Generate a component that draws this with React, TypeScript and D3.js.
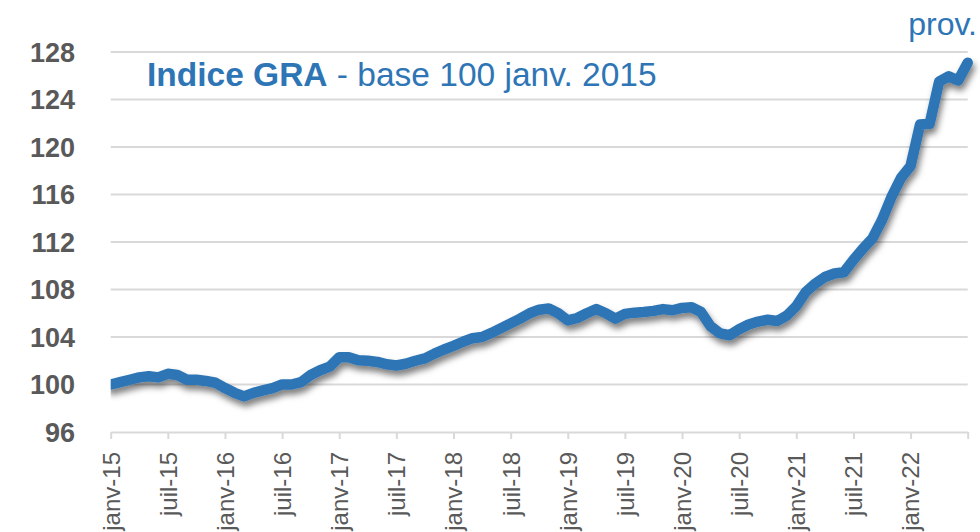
import React, { useRef, useEffect } from 'react';
import * as d3 from 'd3';

// monthly GRA index, janv-15 .. juil-22
const indexValues = [
  100.0, 100.2, 100.4, 100.6, 100.7, 100.6, 100.9, 100.8, 100.4, 100.4, 100.3, 100.15,
  99.7, 99.3, 99.0, 99.3, 99.5, 99.7, 100.0, 100.0, 100.2, 100.8, 101.2, 101.5,
  102.3, 102.3, 102.05, 102.0, 101.9, 101.7, 101.6, 101.75, 102.0, 102.2, 102.6, 102.95,
  103.25, 103.6, 103.9, 104.0, 104.35, 104.75, 105.15, 105.55, 106.0, 106.3, 106.4, 106.0,
  105.4, 105.6, 106.0, 106.35, 106.0, 105.55, 105.95, 106.05, 106.1, 106.2, 106.35, 106.25,
  106.45, 106.5, 106.1, 104.9, 104.3, 104.15, 104.65, 105.05, 105.3, 105.45, 105.35, 105.8,
  106.6, 107.8, 108.5, 109.05, 109.35, 109.45, 110.5, 111.45, 112.3, 113.85, 115.8, 117.4,
  118.4, 121.9, 121.95, 125.5, 125.95, 125.6, 127.1,
];

const xTickLabels = [
  'janv-15', 'juil-15', 'janv-16', 'juil-16', 'janv-17', 'juil-17', 'janv-18', 'juil-18',
  'janv-19', 'juil-19', 'janv-20', 'juil-20', 'janv-21', 'juil-21', 'janv-22', '',
];

const yTicks = [96, 100, 104, 108, 112, 116, 120, 124, 128];

function App() {
  const chartRef = useRef<SVGSVGElement>(null);

  useEffect(() => {
    const svg = d3.select(chartRef.current);
    svg.selectAll('*').remove();

    const width = 980, height = 532;
    const left = 110.7, right = 967.7, top = 52, bottom = 432;
    const blue = '#2E75B6', grey = '#D9D9D9', textGrey = '#595959';
    const font = 'Arial, "Liberation Sans", sans-serif';

    svg.attr('width', width).attr('height', height);

    const nMonths = (xTickLabels.length - 1) * 6;
    const xScale = d3.scaleLinear().domain([0, nMonths]).range([left, right]);
    const yScale = d3.scaleLinear().domain([96, 128]).range([bottom, top]);

    const defs = svg.append('defs');
    const filter = defs.append('filter').attr('id', 'shadow')
      .attr('x', '-10%').attr('y', '-10%').attr('width', '120%').attr('height', '130%');
    filter.append('feDropShadow')
      .attr('dx', 2).attr('dy', 5).attr('stdDeviation', 3)
      .attr('flood-color', '#000').attr('flood-opacity', 0.5);
    defs.append('clipPath').attr('id', 'plotClip')
      .append('rect').attr('x', left).attr('y', 0).attr('width', width - left).attr('height', height);

    // gridlines
    svg.append('g')
      .selectAll('line')
      .data(yTicks.filter((d) => d > 96))
      .join('line')
      .attr('x1', left).attr('x2', right)
      .attr('y1', (d) => yScale(d)).attr('y2', (d) => yScale(d))
      .attr('stroke', grey).attr('stroke-width', 2);

    // x axis
    const tickValues = xTickLabels.map((_, i) => i * 6);
    const xAxis = svg.append('g')
      .attr('transform', `translate(0,${bottom})`)
      .call(d3.axisBottom(xScale)
        .tickValues(tickValues)
        .tickSize(7)
        .tickSizeOuter(0)
        .tickFormat((d, i) => xTickLabels[i]));
    xAxis.select('.domain').attr('stroke', grey).attr('stroke-width', 2);
    xAxis.selectAll('.tick line').attr('stroke', grey).attr('stroke-width', 2);
    xAxis.selectAll('.tick text')
      .attr('transform', 'rotate(-90)')
      .attr('x', -20).attr('y', 0).attr('dy', '0.35em')
      .attr('text-anchor', 'end')
      .attr('fill', textGrey)
      .style('font-family', font)
      .style('font-size', '24px');

    // y labels
    svg.append('g')
      .selectAll('text')
      .data(yTicks)
      .join('text')
      .attr('x', 75)
      .attr('y', (d) => yScale(d))
      .attr('dy', '0.36em')
      .attr('text-anchor', 'end')
      .attr('fill', textGrey)
      .style('font-family', font)
      .style('font-weight', 'bold')
      .style('font-size', '27px')
      .text((d) => d);

    const line = d3.line<number>()
      .x((d, i) => xScale(i))
      .y((d) => yScale(d));

    svg.append('g').attr('clip-path', 'url(#plotClip)')
      .append('path')
      .datum(indexValues)
      .attr('fill', 'none')
      .attr('stroke', blue)
      .attr('stroke-width', 10.5)
      .attr('stroke-linejoin', 'round')
      .attr('stroke-linecap', 'round')
      .attr('filter', 'url(#shadow)')
      .attr('d', line);

    const title = svg.append('text')
      .attr('x', 147)
      .attr('y', 86)
      .attr('fill', blue)
      .style('font-family', font)
      .style('font-size', '33.5px');
    title.append('tspan').style('font-weight', 'bold').text('Indice GRA');
    title.append('tspan').text(' - base 100 janv. 2015');

    svg.append('text')
      .attr('x', 977)
      .attr('y', 35)
      .attr('text-anchor', 'end')
      .attr('fill', blue)
      .style('font-family', font)
      .style('font-size', '32px')
      .text('prov.');
  }, []);

  return (
    <div style={{ position: 'absolute', left: 0, top: 0 }}>
      <svg ref={chartRef} style={{ display: 'block', background: '#fff' }}></svg>
    </div>
  );
}

export default App;
